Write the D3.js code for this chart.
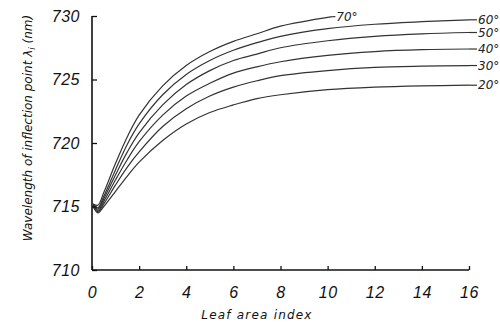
<!DOCTYPE html>
<html><head><meta charset="utf-8">
<script src="https://cdn.jsdelivr.net/npm/d3@7"></script>
<style>body{margin:0;background:#fff}svg{display:block}</style>
</head><body>
<svg id="c" width="500" height="326"></svg>
<script>
const lai = [0.05, 0.25, 0.5, 1, 1.5, 2, 3, 4, 5, 6, 7, 8, 10, 12, 14, 16];
const lai70 = [0.05, 0.25, 0.5, 1, 1.5, 2, 3, 4, 5, 6, 7, 8, 10.2];
const angles = ["70°", "60°", "50°", "40°", "30°", "20°"];
const s70 = [715.2, 715.1, 716.1, 718.4, 720.5, 722.2, 724.5, 726.1, 727.2, 728.0, 728.6, 729.2, 729.95];
const s60 = [715.2, 714.9, 715.8, 717.9, 719.9, 721.5, 723.8, 725.4, 726.5, 727.3, 727.9, 728.4, 729.0, 729.35, 729.55, 729.7];
const s50 = [715.1, 714.8, 715.6, 717.5, 719.3, 720.8, 723.0, 724.6, 725.7, 726.5, 727.0, 727.5, 728.05, 728.4, 728.6, 728.7];
const s40 = [715.1, 714.7, 715.4, 717.1, 718.7, 720.1, 722.2, 723.7, 724.7, 725.5, 726.0, 726.4, 726.9, 727.2, 727.35, 727.4];
const s30 = [715.0, 714.6, 715.2, 716.7, 718.1, 719.3, 721.3, 722.7, 723.7, 724.4, 724.9, 725.3, 725.7, 725.95, 726.05, 726.1];
const s20 = [715.0, 714.5, 715.0, 716.2, 717.4, 718.5, 720.2, 721.5, 722.4, 723.0, 723.5, 723.8, 724.2, 724.4, 724.5, 724.55];
const xTicks = [0, 2, 4, 6, 8, 10, 12, 14, 16];
const yTicks = [710, 715, 720, 725, 730];

const svg = d3.select("#c");
const x = d3.scaleLinear().domain([0, 16]).range([92, 469]);
const y = d3.scaleLinear().domain([710, 730]).range([270, 16]);

const series = [
  {name: angles[0], pts: s70.map((v, i) => [lai70[i], v])},
  {name: angles[1], pts: s60.map((v, i) => [lai[i], v])},
  {name: angles[2], pts: s50.map((v, i) => [lai[i], v])},
  {name: angles[3], pts: s40.map((v, i) => [lai[i], v])},
  {name: angles[4], pts: s30.map((v, i) => [lai[i], v])},
  {name: angles[5], pts: s20.map((v, i) => [lai[i], v])}
];

const line = d3.line().x(d => x(d[0])).y(d => y(d[1])).curve(d3.curveCatmullRom.alpha(0.5));

svg.append("g").selectAll("path").data(series).join("path")
  .attr("d", d => line(d.pts))
  .attr("fill", "none").attr("stroke", "#333").attr("stroke-width", 1.2);

// end labels
series.forEach((s, i) => {
  const last = s.pts[s.pts.length - 1];
  const lx = x(last[0]) + (i === 0 ? 4 : 9);
  svg.append("line").attr("x1", x(last[0])).attr("x2", lx - 1)
    .attr("y1", y(last[1])).attr("y2", y(last[1])).attr("stroke", "#333").attr("stroke-width", 1.2);
  svg.append("text").attr("x", lx).attr("y", y(last[1]) + 4)
    .attr("font-family", "DejaVu Sans, sans-serif").attr("font-style", "italic")
    .attr("font-size", 12).attr("fill", "#222").text(s.name);
});

// axes
const xAxis = d3.axisBottom(x).tickValues(xTicks).tickSize(-4).tickPadding(14).tickFormat(d3.format("d"));
const gx = svg.append("g").attr("transform", "translate(0,270)").call(xAxis);
const yAxis = d3.axisLeft(y).tickValues(yTicks).tickSize(-5).tickPadding(12).tickFormat(d3.format("d"));
const gy = svg.append("g").attr("transform", "translate(92,0)").call(yAxis);
[gx, gy].forEach(g => {
  g.select(".domain").attr("stroke", "#111").attr("stroke-width", 1.6);
  g.selectAll(".tick line").attr("stroke", "#111").attr("stroke-width", 1.3);
  g.selectAll(".tick text").attr("font-family", "Liberation Sans, Arial, sans-serif")
    .attr("font-style", "italic").attr("font-size", 16).attr("letter-spacing", 0.5).attr("fill", "#111");
});
gx.select(".domain").attr("d", "M92,0H469");
gy.select(".domain").attr("d", "M0,270V16");
gx.selectAll(".tick text").attr("dy", "0.9em");

svg.append("text").attr("x", 257).attr("y", 319).attr("text-anchor", "middle")
  .attr("font-family", "DejaVu Sans, sans-serif").attr("font-style", "italic")
  .attr("font-size", 12).attr("letter-spacing", 1.2).attr("fill", "#111").text("Leaf area index");

svg.append("text").attr("transform", "translate(32,128) rotate(-90)").attr("text-anchor", "middle")
  .attr("font-family", "DejaVu Sans, sans-serif").attr("font-style", "italic")
  .attr("font-size", 12).attr("fill", "#111")
  .text("Wavelength of inflection point λ").append("tspan").attr("font-size", 9).attr("dy", 3).text("i")
  .select(function() { return this.parentNode; }).append("tspan").attr("dy", -3).attr("font-size", 12).text(" (nm)");
</script>
</body></html>
